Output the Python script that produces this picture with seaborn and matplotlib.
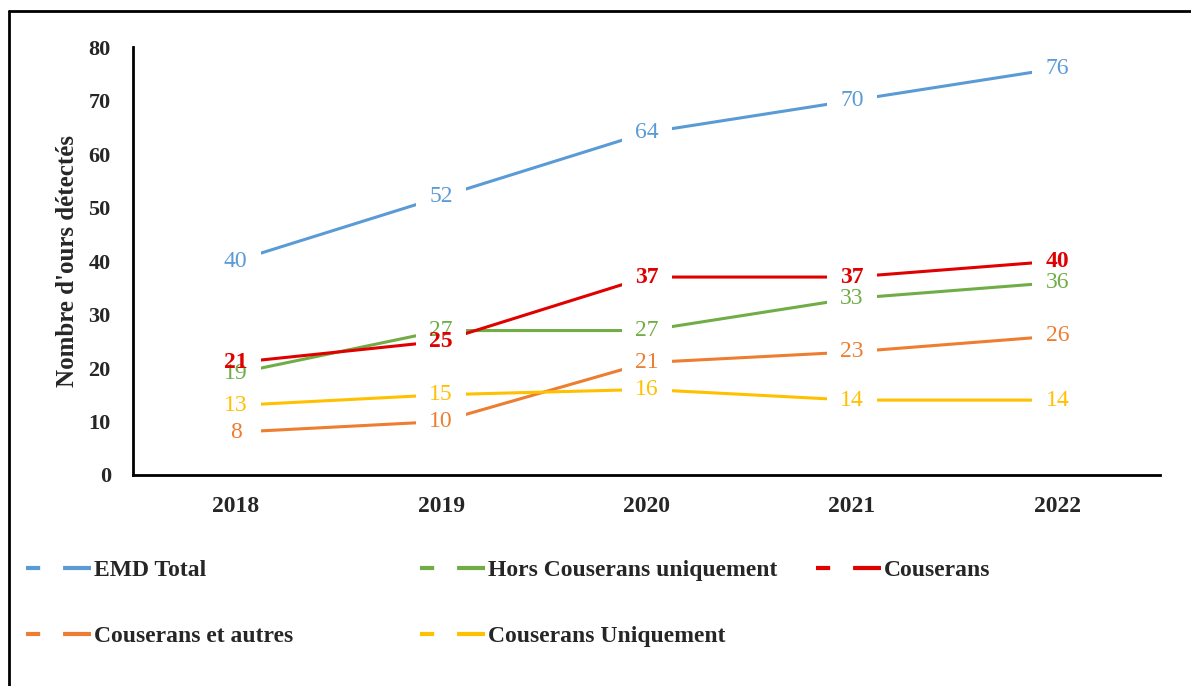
import pandas as pd
import matplotlib.pyplot as plt
import seaborn as sns
from matplotlib.lines import Line2D
from matplotlib.path import Path
from matplotlib.ticker import FixedLocator

# data
years = ['2018', '2019', '2020', '2021', '2022']
emd_total = [40, 52, 64, 70, 76]
hors_couserans = [19, 27, 27, 33, 36]
couserans = [21, 25, 37, 37, 40]
couserans_autres = [8, 10, 21, 23, 26]
couserans_uniq = [13, 15, 16, 14, 14]

series = {
    'EMD Total': emd_total,
    'Hors Couserans uniquement': hors_couserans,
    'Couserans': couserans,
    'Couserans et autres': couserans_autres,
    'Couserans Uniquement': couserans_uniq,
}
colors = {
    'EMD Total': '#5B9BD5',
    'Hors Couserans uniquement': '#70AD47',
    'Couserans': '#E00000',
    'Couserans et autres': '#ED7D31',
    'Couserans Uniquement': '#FFC000',
}

rows = []
for name, vals in series.items():
    for i, (yr, v) in enumerate(zip(years, vals)):
        rows.append({'pos': i, 'year': yr, 'value': v, 'serie': name})
df = pd.DataFrame(rows)

sns.set_style('white')
plt.rcParams['font.family'] = ['Liberation Serif', 'DejaVu Serif']

fig = plt.figure(figsize=(11.91, 6.86), dpi=100)
ax = fig.add_axes([133 / 1191, 1 - 475 / 686, 1027 / 1191, 428 / 686])

sns.lineplot(data=df, x='pos', y='value', hue='serie', palette=colors,
             linewidth=2.2, ax=ax, legend=False, zorder=2)

# white box behind every data label (cuts the lines like the Excel labels)
box = Path([(-1.3, -1), (1.3, -1), (1.3, 1), (-1.3, 1), (-1.3, -1)])
sns.scatterplot(data=df, x='pos', y='value', marker=box, s=1300, color='white',
                linewidth=0, ax=ax, legend=False, zorder=3)

for name, vals in series.items():
    bold = 'bold' if name == 'Couserans' else 'normal'
    for i, v in enumerate(vals):
        ax.text(i, v, str(v), ha='center', va='center', fontsize=17,
                color=colors[name], fontweight=bold, zorder=4)

ax.set_xlim(-0.5, 4.5)
ax.set_ylim(0, 80)
ax.set_yticks(range(0, 81, 10))
ax.set_xticks(range(len(years)))
ax.set_xticklabels(years)
ax.xaxis.set_minor_locator(FixedLocator([-0.5, 0.5, 1.5, 2.5, 3.5, 4.5]))
ax.tick_params(axis='x', which='major', length=0, pad=15, labelsize=17)
ax.tick_params(axis='x', which='minor', direction='inout', length=14, width=1.5, color='black')
ax.tick_params(axis='y', direction='out', length=6, width=1.5, color='black', pad=10, labelsize=16)
for lab in ax.get_xticklabels() + ax.get_yticklabels():
    lab.set_fontweight('bold')

ax.set_xlabel('')
ax.set_ylabel("Nombre d'ours détectés", fontsize=18, fontweight='bold')
ax.yaxis.set_label_coords(-0.053, 0.5)

sns.despine(ax=ax)
for s in ['left', 'bottom']:
    ax.spines[s].set_linewidth(2)
    ax.spines[s].set_color('black')

# legend, one entry each, placed like the original grid
legend_pos = {
    'EMD Total': (26, 570),
    'Hors Couserans uniquement': (420, 570),
    'Couserans': (816, 570),
    'Couserans et autres': (26, 636),
    'Couserans Uniquement': (420, 636),
}
for name, (px, py) in legend_pos.items():
    h = Line2D([], [], color=colors[name], lw=3, linestyle=(0, (3.4, 5.5, 6.7, 30)))
    fig.legend([h], [name], loc='center left',
               bbox_to_anchor=(px / 1191, 1 - py / 686),
               frameon=False, borderpad=0, borderaxespad=0,
               handlelength=2.75, handletextpad=0.13,
               prop={'size': 17, 'weight': 'bold'})

# outer frame (left and top edges visible)
fig.add_artist(Line2D([9 / 1191, 9 / 1191], [0, 1 - 11 / 686], transform=fig.transFigure,
                      color='black', lw=2))
fig.add_artist(Line2D([9 / 1191, 1], [1 - 11 / 686, 1 - 11 / 686], transform=fig.transFigure,
                      color='black', lw=2))

fig.savefig('out.png', dpi=100)
